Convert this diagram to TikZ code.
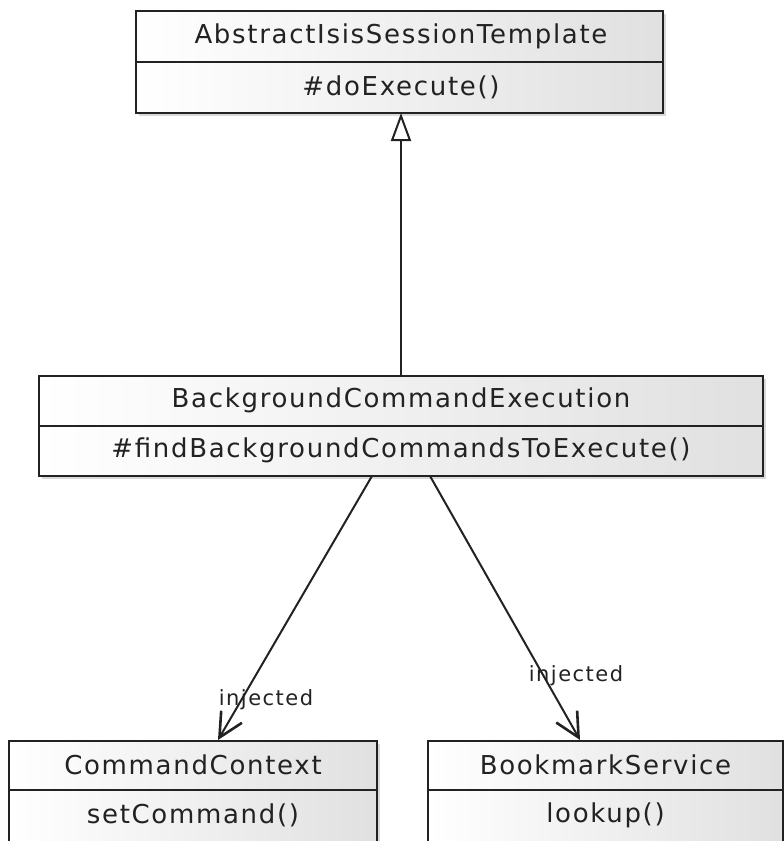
\documentclass[tikz,border=0pt]{standalone}
\usepackage{fontspec}
\setmainfont{DejaVu Sans}
\newfontfamily\clsfont[LetterSpace=6.5]{DejaVu Sans}
\newfontfamily\lblfont[LetterSpace=7]{DejaVu Sans}
\usetikzlibrary{arrows.meta,shadows}
\definecolor{edge}{HTML}{222222}
\begin{document}
\begin{tikzpicture}[x=1pt,y=-1pt,
  clsbox/.style={draw=edge,line width=2pt,rectangle,inner sep=0pt,
    left color=white,right color=black!12,
    drop shadow={shadow xshift=3pt,shadow yshift=-3pt,opacity=0.25,fill=black!60}},
  clstext/.style={font=\clsfont\fontsize{26}{30}\selectfont,text=edge,inner sep=0pt},
  lbl/.style={font=\lblfont\fontsize{21}{24}\selectfont,text=edge,inner sep=0pt},
  conn/.style={draw=edge,line width=2pt}]
\useasboundingbox (0,0) rectangle (784,841);
\clip (0,0) rectangle (784,841);
% top class
\node[clsbox,minimum width=527pt,minimum height=102pt] (abs) at (399.5,62) {};
\draw[conn] (136,62) -- (663,62);
\node[clstext] (absname) at (401,36) {AbstractIsisSessionTemplate};
\node[clstext] (absop) at (401,87) {\#doExecute()};
% middle class
\node[clsbox,minimum width=724pt,minimum height=100pt] (bce) at (401,426) {};
\draw[conn] (39,426) -- (763,426);
\node[clstext] (bcename) at (401,400.5) {BackgroundCommandExecution};
\node[clstext] (bceop) at (401,450.5) {\#findBackgroundCommandsToExecute()};
% bottom left
\node[clsbox,minimum width=368pt,minimum height=102pt,anchor=north] (cc) at (193,740) {};
\draw[conn] (9,790) -- (377,790);
\node[clstext] (ccname) at (193,764.5) {CommandContext};
\node[clstext] (ccop) at (193,815) {setCommand()};
% bottom right
\node[clsbox,minimum width=355pt,minimum height=102pt,anchor=north] (bs) at (605.5,740) {};
\draw[conn] (428,790) -- (783,790);
\node[clstext] (bsname) at (605.5,764.5) {BookmarkService};
\node[clstext] (bsop) at (605.5,815) {lookup()};
% connectors
\coordinate (gsrc) at (401,376);
\coordinate (gdst) at (401,113);
\draw[conn,-{Triangle[open,length=28pt,width=20pt,line width=2pt]}] (gsrc) -- (gdst);
\coordinate (d1s) at (372,476);
\coordinate (d1e) at (218,740);
\coordinate (d2s) at (430,476);
\coordinate (d2e) at (580,740);
\draw[conn,-{Straight Barb[length=24pt,width=24pt,line width=2.6pt]}] (d1s) -- (d1e);
\draw[conn,-{Straight Barb[length=24pt,width=24pt,line width=2.6pt]}] (d2s) -- (d2e);
\node[lbl] (inj1) at (266,700) {injected};
\node[lbl] (inj2) at (576,676) {injected};
\end{tikzpicture}
\end{document}
